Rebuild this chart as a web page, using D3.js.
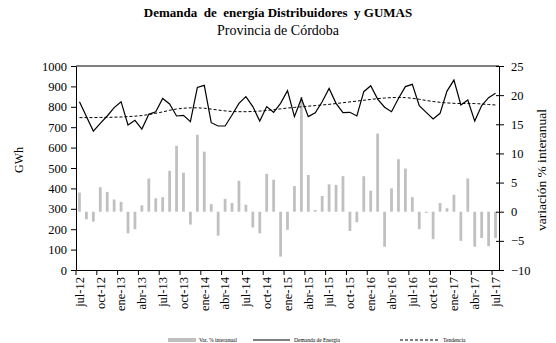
<!DOCTYPE html>
<html>
<head>
<meta charset="utf-8">
<script src="https://cdn.jsdelivr.net/npm/d3@7/dist/d3.min.js"></script>
<style>
  body { margin: 0; background: #fff; }
  svg { display: block; }
  svg text { font-family: "Liberation Serif", "Times New Roman", serif; fill: #000; }
</style>
</head>
<body>
<svg id="chart" width="556" height="343"></svg>
<script>
// Monthly categories, jul-12 .. jul-17
const months = [
  "jul-12","ago-12","sep-12","oct-12","nov-12","dic-12",
  "ene-13","feb-13","mar-13","abr-13","may-13","jun-13",
  "jul-13","ago-13","sep-13","oct-13","nov-13","dic-13",
  "ene-14","feb-14","mar-14","abr-14","may-14","jun-14",
  "jul-14","ago-14","sep-14","oct-14","nov-14","dic-14",
  "ene-15","feb-15","mar-15","abr-15","may-15","jun-15",
  "jul-15","ago-15","sep-15","oct-15","nov-15","dic-15",
  "ene-16","feb-16","mar-16","abr-16","may-16","jun-16",
  "jul-16","ago-16","sep-16","oct-16","nov-16","dic-16",
  "ene-17","feb-17","mar-17","abr-17","may-17","jun-17",
  "jul-17"
];

// Demanda de Energía (GWh)
const demanda = [
  825, 752, 681, 719, 755, 796, 825, 711, 734, 691, 763, 776,
  841, 814, 755, 758, 727, 895, 905, 722, 706, 706, 760, 817,
  850, 801, 730, 801, 773, 817, 879, 752, 841, 752, 771, 825,
  890, 817, 771, 773, 755, 874, 903, 838, 798, 776, 841, 899,
  910, 806, 773, 740, 768, 877, 931, 809, 833, 730, 806, 845,
  866
];

// Tendencia (GWh)
const tendencia = [
  747, 747, 747, 748, 748, 749, 750, 752, 754, 757, 762, 768,
  775, 783, 789, 793, 795, 795, 793, 789, 784, 780, 777, 776,
  776, 777, 779, 782, 786, 790, 794, 797, 800, 803, 806, 809,
  812, 816, 820, 824, 828, 832, 836, 840, 843, 845, 846, 845,
  842, 837, 831, 826, 822, 819, 817, 816, 816, 816, 814, 811,
  809
];

// Var. % interanual
const variacion = [
  3.3, -1.3, -1.7, 4.2, 3.4, 2.1, 1.7, -3.7, -3.0, 1.1, 5.7, 2.3,
  2.5, 7.0, 11.3, 6.7, -2.2, 13.2, 10.3, 1.3, -4.1, 2.2, 1.5, 5.3,
  1.2, -2.7, -3.7, 6.5, 5.5, -7.7, -3.1, 4.4, 19.7, 6.3, 0.3, 2.7,
  4.7, 4.6, 6.1, -3.3, -1.8, 6.1, 3.6, 13.4, -6.0, 4.0, 9.0, 7.4,
  2.5, -3.0, -0.2, -4.7, 1.5, 0.6, 2.9, -5.0, 5.7, -6.0, -4.5, -5.9,
  -4.5
];

const leftTicks = [0, 100, 200, 300, 400, 500, 600, 700, 800, 900, 1000];
const rightTicks = [-10, -5, 0, 5, 10, 15, 20, 25];
const xTickLabels = months.filter((m, i) => i % 3 === 0);

const svg = d3.select("#chart");
const plot = { left: 76, right: 499, top: 66, bottom: 270 };

const x = d3.scaleBand().domain(months)
  .range([plot.left, plot.right]).paddingInner(0.6).paddingOuter(0.3);
const yL = d3.scaleLinear().domain([0, 1000]).range([plot.bottom, plot.top]);
const yR = d3.scaleLinear().domain([-10, 25]).range([plot.bottom, plot.top]);
const cx = m => x(m) + x.bandwidth() / 2;

// Titles
svg.append("text").attr("x", 278).attr("y", 17).attr("text-anchor", "middle")
  .attr("font-size", 13).attr("font-weight", "bold")
  .attr("xml:space", "preserve")
  .text("Demanda  de  energía Distribuidores  y GUMAS");
svg.append("text").attr("x", 278).attr("y", 35).attr("text-anchor", "middle")
  .attr("font-size", 14)
  .text("Provincia de Córdoba");

// Bars (right axis)
svg.append("g").selectAll("rect").data(variacion).join("rect")
  .attr("x", (d, i) => x(months[i]))
  .attr("width", x.bandwidth())
  .attr("y", d => yR(Math.max(0, d)))
  .attr("height", d => Math.abs(yR(d) - yR(0)))
  .attr("fill", "#c0c0c0");

// Lines (left axis)
const line = d3.line().x((d, i) => cx(months[i])).y(d => yL(d));
svg.append("path").datum(tendencia).attr("d", line)
  .attr("fill", "none").attr("stroke", "#000").attr("stroke-width", 1)
  .attr("stroke-dasharray", "3,2");
svg.append("path").datum(demanda).attr("d", line)
  .attr("fill", "none").attr("stroke", "#000").attr("stroke-width", 1.2);

// Frame top line
svg.append("line").attr("x1", plot.left).attr("x2", plot.right)
  .attr("y1", plot.top).attr("y2", plot.top).attr("stroke", "#000");

// Left axis
const gL = svg.append("g").attr("transform", `translate(${plot.left},0)`)
  .call(d3.axisLeft(yL).tickValues(leftTicks).tickFormat(d3.format("d"))
    .tickSize(5).tickPadding(4).tickSizeOuter(0));
// Right axis
const gR = svg.append("g").attr("transform", `translate(${plot.right},0)`)
  .call(d3.axisRight(yR).tickValues(rightTicks).tickFormat(d3.format("d"))
    .tickSize(5).tickPadding(7).tickSizeOuter(0));
gR.selectAll(".tick line").attr("x1", -3);
// Bottom axis
const gB = svg.append("g").attr("transform", `translate(0,${plot.bottom})`)
  .call(d3.axisBottom(x).tickValues(xTickLabels).tickSize(5).tickSizeOuter(0));
gB.selectAll(".tick line").attr("transform", `translate(${-x.step() / 2},0)`);
gB.selectAll(".tick text")
  .attr("transform", "rotate(-90)")
  .attr("text-anchor", "end")
  .attr("x", -7).attr("y", 0).attr("dy", "0.35em");

[gL, gR, gB].forEach(g => {
  g.attr("font-family", null).attr("font-size", null);
  g.selectAll(".domain").attr("stroke", "#000");
  g.selectAll(".tick line").attr("stroke", "#000");
  g.selectAll(".tick text").attr("fill", null).style("font-size", "12.5px");
});

// Axis titles
svg.append("text").attr("transform", "translate(23,160) rotate(-90)")
  .attr("text-anchor", "middle").attr("font-size", 12).text("GWh");
svg.append("text").attr("transform", "translate(546,170) rotate(-90)")
  .attr("text-anchor", "middle").attr("font-size", 13.5).text("variación % interanual");

// Legend
const lg = svg.append("g").attr("font-size", 5.5);
lg.append("rect").attr("x", 168).attr("y", 338).attr("width", 28).attr("height", 4).attr("fill", "#c0c0c0");
lg.append("text").attr("x", 199).attr("y", 342).text("Var. % interanual");
lg.append("line").attr("x1", 253).attr("x2", 290).attr("y1", 340).attr("y2", 340)
  .attr("stroke", "#000").attr("stroke-width", 1.2);
lg.append("text").attr("x", 294).attr("y", 342).text("Demanda de Energía");
lg.append("line").attr("x1", 400).attr("x2", 439).attr("y1", 340).attr("y2", 340)
  .attr("stroke", "#000").attr("stroke-width", 1).attr("stroke-dasharray", "3,2");
lg.append("text").attr("x", 443).attr("y", 342).text("Tendencia");
</script>
</body>
</html>
